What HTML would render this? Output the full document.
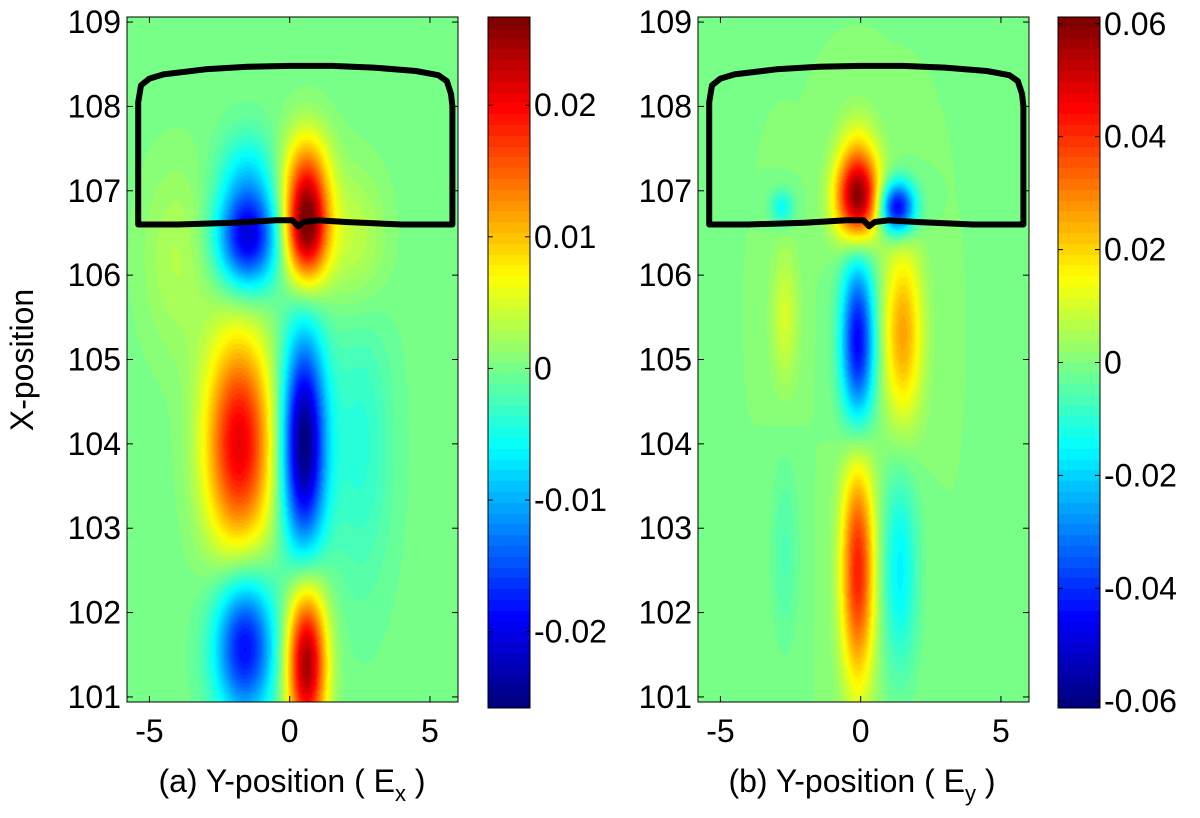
<!DOCTYPE html>
<html><head><meta charset="utf-8">
<style>
html,body{margin:0;padding:0;background:#fff;width:1200px;height:818px;overflow:hidden}
canvas{position:absolute}
svg{position:absolute;left:0;top:0}
text{font-family:"Liberation Sans",sans-serif;font-size:32px;fill:#000}
</style></head>
<body>
<canvas id="hmA"></canvas>
<canvas id="hmB"></canvas>
<canvas id="cbA"></canvas>
<canvas id="cbB"></canvas>
<svg id="ov" width="1200" height="818"></svg>
<script>
// ---- data ----
// blob fields: [x-center, y-center, amplitude, sigmaX, sigmaY]
const blobsEx = [
 [-1.5,106.45,-0.021,0.75,0.42],[0.6,106.55,0.026,0.55,0.45],
 [-1.5,107.25,-0.005,0.7,0.35],[0.6,107.25,0.009,0.6,0.4],
 [-1.8,104.0,0.021,0.85,0.9],[0.5,104.0,-0.026,0.55,0.9],
 [-1.6,101.6,-0.019,0.75,0.6],[0.6,101.4,0.025,0.5,0.65],
 [2.5,104.0,-0.004,0.8,1.2],[2.3,106.4,0.004,0.8,0.6],[-4.0,106.2,0.003,0.9,0.8]
];
const blobsEy = [
 [-0.1,106.9,0.058,0.55,0.35],[1.3,106.8,-0.05,0.45,0.22],[-0.1,107.45,0.012,0.5,0.35],
 [-2.8,106.8,-0.015,0.3,0.15],
 [-0.1,105.2,-0.046,0.42,0.7],[1.5,105.3,0.026,0.5,0.75],[-2.7,105.5,0.01,0.35,0.6],
 [-0.1,102.5,0.042,0.42,0.95],[1.4,102.5,-0.016,0.45,0.85],[-2.7,102.7,-0.006,0.35,0.8]
];
const xTicks = [-5,0,5];
const yTicks = [101,102,103,104,105,106,107,108,109];
const cbTicksA = [0.02,0.01,0,-0.01,-0.02];
const cbLabelsA = ["0.02","0.01","0","-0.01","-0.02"];
const cbTicksB = [0.06,0.04,0.02,0,-0.02,-0.04,-0.06];
const cbLabelsB = ["0.06","0.04","0.02","0","-0.02","-0.04","-0.06"];
// contour outline (data coords)
const contourX = [-5.4,-5.4,-5.3,-5.0,-4.5,-3,-1.5,0,1.5,3,4.5,5.3,5.6,5.75,5.8,5.8,4,2,1,0.5,0.3,0.1,-0.5,-2,-4,-5.4];
const contourY = [106.6,108.05,108.25,108.33,108.38,108.44,108.47,108.48,108.48,108.46,108.42,108.37,108.3,108.15,108.0,106.6,106.6,106.63,106.65,106.63,106.58,106.65,106.65,106.62,106.6,106.6];

// ---- layout ----
const PA = {x0:127,y0:17,w:331,h:685,xmin:-5.8,xmax:6.0,ymin:100.94,ymax:109.06};
const PB = {x0:698,y0:17,w:331,h:685,xmin:-5.8,xmax:6.0,ymin:100.94,ymax:109.06};
const CA = {x0:488,y0:17,w:42,h:691,min:-0.0258,max:0.0267};
const CB = {x0:1058,y0:17,w:42,h:691,min:-0.0612,max:0.0612};

function jet(t){t=Math.max(0,Math.min(1,t));t=Math.floor(t*63.999)/63;
 const c=v=>Math.round(255*Math.max(0,Math.min(1,v)));
 return [c(1.5-Math.abs(4*t-3)),c(1.5-Math.abs(4*t-2)),c(1.5-Math.abs(4*t-1))];}
function sx(P,v){return P.x0+(v-P.xmin)/(P.xmax-P.xmin)*P.w;}
function sy(P,v){return P.y0+(P.ymax-v)/(P.ymax-P.ymin)*P.h;}
function drawHeat(id,P,blobs,C){
 const cv=document.getElementById(id);cv.width=P.w;cv.height=P.h;
 cv.style.left=P.x0+'px';cv.style.top=P.y0+'px';
 const ctx=cv.getContext('2d');const im=ctx.createImageData(P.w,P.h);
 for(let j=0;j<P.h;j++){const y=P.ymax-(j+0.5)/P.h*(P.ymax-P.ymin);
  for(let i=0;i<P.w;i++){const x=P.xmin+(i+0.5)/P.w*(P.xmax-P.xmin);
   let v=0;for(const b of blobs){const dx=(x-b[0])/b[3],dy=(y-b[1])/b[4];v+=b[2]*Math.exp(-0.5*(dx*dx+dy*dy));}
   const c=jet((v-C.min)/(C.max-C.min));const k=(j*P.w+i)*4;
   im.data[k]=c[0];im.data[k+1]=c[1];im.data[k+2]=c[2];im.data[k+3]=255;}}
 ctx.putImageData(im,0,0);}
function drawBar(id,C){
 const cv=document.getElementById(id);cv.width=C.w;cv.height=C.h;
 cv.style.left=C.x0+'px';cv.style.top=C.y0+'px';
 const ctx=cv.getContext('2d');
 for(let j=0;j<C.h;j++){const c=jet(1-(j+0.5)/C.h);ctx.fillStyle=`rgb(${c})`;ctx.fillRect(0,j,C.w,1);}}
drawHeat('hmA',PA,blobsEx,CA);drawHeat('hmB',PB,blobsEy,CB);
drawBar('cbA',CA);drawBar('cbB',CB);

const NS='http://www.w3.org/2000/svg';const ov=document.getElementById('ov');
function el(tag,attrs,txt){const e=document.createElementNS(NS,tag);for(const k in attrs)e.setAttribute(k,attrs[k]);if(txt!==undefined)e.textContent=txt;ov.appendChild(e);return e;}
function panel(P,name){
 const fr=el('rect',{x:P.x0,y:P.y0,width:P.w,height:P.h,fill:'none',stroke:'#000','stroke-width':1});
 
 
 let d='';contourX.forEach((x,i)=>{d+=(i?'L':'M')+sx(P,x).toFixed(1)+' '+sy(P,contourY[i]).toFixed(1);});
 const cp=el('path',{d:d+'Z',fill:'none',stroke:'#000','stroke-width':6,'stroke-linejoin':'round'});
 
 
 xTicks.forEach(t=>{const x=sx(P,t);
  el('line',{x1:x,x2:x,y1:P.y0+P.h,y2:P.y0+P.h-6,stroke:'#000'});el('line',{x1:x,x2:x,y1:P.y0,y2:P.y0+6,stroke:'#000'});
  const tx=el('text',{x:x,y:P.y0+P.h+40,'text-anchor':'middle'},String(t));
  
  });
 yTicks.forEach(t=>{const y=sy(P,t);
  el('line',{x1:P.x0,x2:P.x0+6,y1:y,y2:y,stroke:'#000'});el('line',{x1:P.x0+P.w,x2:P.x0+P.w-6,y1:y,y2:y,stroke:'#000'});
  const tx=el('text',{x:P.x0-6,y:y+11,'text-anchor':'end'},String(t));
  
  });}
function cbar(C,ticks,labels,name){
 const fr=el('rect',{x:C.x0,y:C.y0,width:C.w,height:C.h,fill:'none',stroke:'#000'});
 
 
 ticks.forEach((t,i)=>{const y=C.y0+(C.max-t)/(C.max-C.min)*C.h;
  el('line',{x1:C.x0,x2:C.x0+5,y1:y,y2:y,stroke:'#000'});el('line',{x1:C.x0+C.w,x2:C.x0+C.w-5,y1:y,y2:y,stroke:'#000'});
  const tx=el('text',{x:C.x0+C.w+4,y:y+11},labels[i]);
  
  });}
panel(PA,'panel-a');panel(PB,'panel-b');
cbar(CA,cbTicksA,cbLabelsA,'colorbar-a');cbar(CB,cbTicksB,cbLabelsB,'colorbar-b');
</script>
<svg width="1200" height="818" style="pointer-events:none">
<text x="33" y="360" text-anchor="middle" transform="rotate(-90 33 360)">X-position</text>
<text x="292" y="792" text-anchor="middle">(a) Y-position ( E<tspan font-size="22" dy="9">x</tspan><tspan dy="-9"> )</tspan></text>
<text x="862" y="792" text-anchor="middle">(b) Y-position ( E<tspan font-size="22" dy="9">y</tspan><tspan dy="-9"> )</tspan></text>
</svg>
</body></html>
